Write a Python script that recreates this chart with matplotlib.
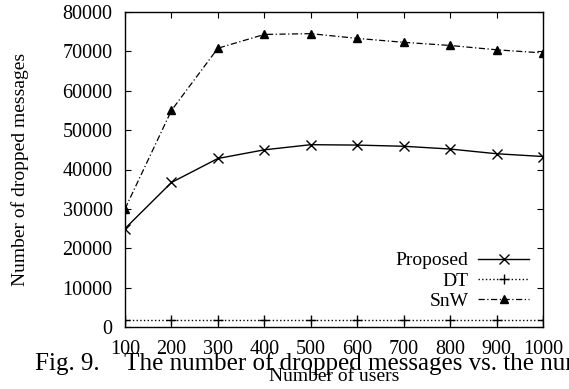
import matplotlib
matplotlib.use("Agg")
import matplotlib.pyplot as plt

users = [100, 200, 300, 400, 500, 600, 700, 800, 900, 1000]
proposed = [25000, 36700, 42800, 45000, 46300, 46200, 45900, 45200, 44000, 43300]
dt = [1700, 1700, 1700, 1700, 1700, 1700, 1700, 1700, 1700, 1700]
snw = [30000, 55000, 70800, 74300, 74500, 73300, 72300, 71500, 70400, 69600]
yticks = [0, 10000, 20000, 30000, 40000, 50000, 60000, 70000, 80000]

plt.rcParams['font.family'] = ['Liberation Serif', 'DejaVu Serif']

fig = plt.figure(figsize=(5.69, 3.89), dpi=100)
ax = fig.add_axes([125/569, 1-327/389, (543-125)/569, (327-12)/389])

ax.plot(users, proposed, '-', color='black', lw=1.0, marker='x', ms=7.5, mew=1.0, label='Proposed')
ax.plot(users, dt, ':', color='black', lw=1.0, marker='+', ms=7, mew=1.0, label='DT')
ax.plot(users, snw, '-.', color='black', lw=0.9, marker='^', ms=6, label='SnW', dashes=(5, 2, 1, 2))

ax.set_xlim(100, 1000)
ax.set_ylim(0, 80000)
ax.set_xticks(users)
ax.set_yticks(yticks)
ax.tick_params(direction='in', top=True, right=True, labelsize=14.5, length=4, width=0.8)
ax.tick_params(axis='x', pad=9)
ax.tick_params(axis='y', pad=9)
for s in ax.spines.values():
    s.set_linewidth(1.0)

ax.set_ylabel('Number of dropped messages', fontsize=14, labelpad=24)
ax.set_xlabel('Number of users', fontsize=14, labelpad=7)

leg = ax.legend(loc='lower right', bbox_to_anchor=(0.985, 0.03), frameon=False, fontsize=14,
                markerfirst=False, handlelength=2.6, labelspacing=0.13, borderaxespad=0, handletextpad=0.5)
for t in leg.get_texts():
    t.set_ha('right')

fig.text(35/569, 1-370/389, 'Fig. 9.    The number of dropped messages vs. the number of users',
         fontsize=18, ha='left', va='baseline')

fig.savefig('out.png', dpi=100)
